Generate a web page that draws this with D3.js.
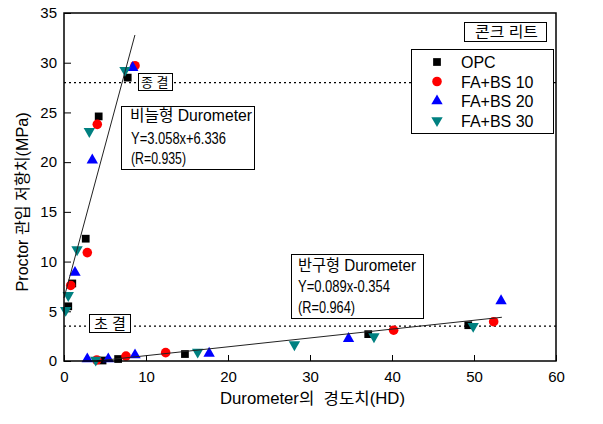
<!DOCTYPE html>
<html>
<head>
<meta charset="utf-8">
<script src="https://cdn.jsdelivr.net/npm/d3@7"></script>
<style>
  body { margin: 0; background: #fff; }
  text { font-family: "Liberation Sans", Arial, "Noto Sans CJK KR", sans-serif; white-space: pre; }
</style>
</head>
<body>
<div id="app"></div>
<script>
// series values (Durometer HD, Proctor MPa)
let opcX = [7.77, 4.23, 2.65, 1.01, 0.52, 4.7, 6.6, 14.75, 37.1, 49.3];
let opcY = [28.5, 24.6, 12.3, 7.8, 5.5, 0.05, 0.2, 0.7, 2.7, 3.6];
let fa10X = [8.66, 4.06, 2.84, 0.82, 4.0, 7.56, 12.4, 40.2, 52.4];
let fa10Y = [29.7, 23.8, 10.9, 7.6, 0.1, 0.5, 0.84, 3.1, 3.95];
let fa20X = [8.38, 3.45, 1.34, 2.84, 5.4, 8.66, 17.7, 34.7, 53.3];
let fa20Y = [29.5, 20.2, 8.9, 0.2, 0.2, 0.6, 0.77, 2.25, 6.05];
let fa30X = [7.44, 3.09, 1.59, 0.52, 0.2, 3.87, 16.3, 28.1, 37.8, 49.9];
let fa30Y = [29.25, 23.1, 11.2, 6.6, 5.1, 0.1, 0.9, 1.65, 2.45, 3.5];

let seriesNames = ["OPC", "FA+BS 10", "FA+BS 20", "FA+BS 30"];
let xTicks = [0, 10, 20, 30, 40, 50, 60];
let yTicks = [0, 5, 10, 15, 20, 25, 30, 35];

// fitted lines: slope, intercept, x range
let needleFit = { a: 3.058, b: 6.336, x0: 0, x1: 8.65 };
let domeFit = { a: 0.089, b: -0.354, x0: 4, x1: 53.4 };
let finalSet = 28;
let initialSet = 3.5;

let W = 603, H = 424;
let margin = { left: 64, right: 47, top: 13, bottom: 63 };
let pw = W - margin.left - margin.right;
let ph = H - margin.top - margin.bottom;

let svg = d3.select("#app")
  .append("svg")
    .attr("width", W)
    .attr("height", H);

let g = svg.append("g")
    .attr("transform", "translate(" + margin.left + "," + margin.top + ")");

let x = d3.scaleLinear().domain([0, 60]).range([0, pw]);
let y = d3.scaleLinear().domain([0, 35]).range([ph, 0]);

// axes with inward ticks
let xAxis = g.append("g")
    .attr("transform", "translate(0," + ph + ")")
    .call(d3.axisBottom(x).tickValues(xTicks).tickSize(-6).tickPadding(10));
let yAxis = g.append("g")
    .call(d3.axisLeft(y).tickValues(yTicks).tickSize(-7).tickPadding(7));
[xAxis, yAxis].forEach(function(a) {
  a.select(".domain").remove();
  a.selectAll("line").attr("stroke", "#000").attr("stroke-width", 1);
  a.selectAll("text").style("font-size", "15px").attr("fill", "#000");
});

// dotted setting lines
g.selectAll(".setline")
  .data([finalSet, initialSet])
  .enter()
  .append("line")
    .attr("x1", 0)
    .attr("x2", pw)
    .attr("y1", function(d) { return y(d); })
    .attr("y2", function(d) { return y(d); })
    .attr("stroke", "#000")
    .attr("stroke-width", 1.2)
    .attr("stroke-dasharray", "2,3");

// markers
let colors = ["#000000", "#ff0000", "#0000ff", "#008080"];
let symbols = [
  d3.symbol().type(d3.symbolSquare).size(60),
  d3.symbol().type(d3.symbolCircle).size(72),
  d3.symbol().type(d3.symbolTriangle).size(56),
  d3.symbol().type(d3.symbolTriangle).size(56)
];
let rotations = [0, 0, 0, 180];
let seriesX = [opcX, fa10X, fa20X, fa30X];
let seriesY = [opcY, fa10Y, fa20Y, fa30Y];

seriesX.forEach(function(xs, i) {
  let pts = xs.map(function(v, j) { return { x: v, y: seriesY[i][j] }; });
  g.selectAll(".s" + i)
    .data(pts)
    .enter()
    .append("path")
      .attr("d", symbols[i])
      .attr("fill", colors[i])
      .attr("transform", function(d) {
        return "translate(" + x(d.x) + "," + y(d.y) + ") rotate(" + rotations[i] + ")";
      });
});

// fit lines
[needleFit, domeFit].forEach(function(f) {
  g.append("line")
    .attr("x1", x(f.x0))
    .attr("y1", y(f.a * f.x0 + f.b))
    .attr("x2", x(f.x1))
    .attr("y2", y(f.a * f.x1 + f.b))
    .attr("stroke", "#222")
    .attr("stroke-width", 1);
});

// frame
g.append("rect")
    .attr("width", pw)
    .attr("height", ph)
    .attr("fill", "none")
    .attr("stroke", "#000")
    .attr("stroke-width", 1.5);

// labelled boxes (pixel positions in svg space)
function box(x0, y0, w, h) {
  svg.append("rect")
    .attr("x", x0).attr("y", y0)
    .attr("width", w).attr("height", h)
    .attr("fill", "#fff")
    .attr("stroke", "#000")
    .attr("stroke-width", 1);
}
function label(tx, ty, str, size, len) {
  let t = svg.append("text")
    .attr("x", tx).attr("y", ty)
    .attr("xml:space", "preserve")
    .style("font-size", size + "px")
    .attr("fill", "#000")
    .text(str);
  if (len) t.attr("textLength", len).attr("lengthAdjust", "spacingAndGlyphs");
  return t;
}

box(138.5, 73.5, 34, 17);
label(141, 87, "종 결", 13);
box(89.5, 314.5, 41, 18);
label(94, 329, "초 결", 15, 32);

box(121.5, 106.5, 133, 63);
label(130, 121, "비늘형 Durometer", 16, 122);
label(131, 143.5, "Y=3.058x+6.336", 16, 95);
label(131, 164, "(R=0.935)", 16, 55);

box(291.5, 254.5, 132, 64);
label(298, 270.5, "반구형 Durometer", 16, 118);
label(298, 291.5, "Y=0.089x-0.354", 16, 92);
label(298, 312.5, "(R=0.964)", 16, 57);

box(464.5, 22.5, 82, 19);
label(475, 37, "콘크 리트", 15, 63);

// legend
box(411.5, 49.5, 142, 84);
seriesNames.forEach(function(name, i) {
  let ly = 62 + i * 19.5;
  svg.append("path")
    .attr("d", symbols[i])
    .attr("fill", colors[i])
    .attr("transform", "translate(437," + ly + ") rotate(" + rotations[i] + ")");
  svg.append("text")
    .attr("x", 461)
    .attr("y", ly + 6)
    .style("font-size", "16px")
    .attr("fill", "#000")
    .text(name);
});

// axis titles
label(220, 404, "Durometer의  경도치(HD)", 16, 185);
svg.append("text")
    .attr("transform", "translate(28,202) rotate(-90)")
    .attr("text-anchor", "middle")
    .style("font-size", "16px")
    .attr("textLength", 179)
    .attr("lengthAdjust", "spacingAndGlyphs")
    .text("Proctor 관입 저항치(MPa)");
</script>
</body>
</html>
